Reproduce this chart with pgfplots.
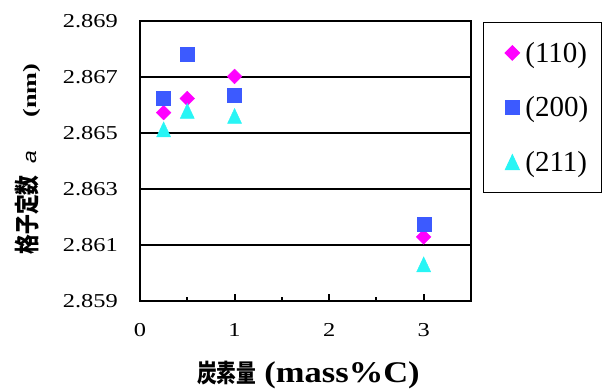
\documentclass[border=0pt]{standalone}
\usepackage{fontspec}
\usepackage{pgfplots}
\pgfplotsset{compat=1.18}
\setmainfont{Liberation Serif}
\newfontfamily\tickfont{Liberation Serif}[FakeStretch=1.24]
\newfontfamily\legfont{Liberation Serif}
\newfontfamily\xlatin{Liberation Serif}[FakeStretch=1.15]
\newfontfamily\ylatin{Liberation Serif}[FakeStretch=1.38]
\newfontfamily\asans{Liberation Sans}[FakeStretch=1.2]
\newfontfamily\cjk{Noto Sans CJK JP}[FakeStretch=0.79]
\definecolor{cmag}{RGB}{255,0,255}
\definecolor{cblue}{RGB}{60,90,255}
\definecolor{ccyan}{RGB}{40,245,245}
\begin{document}
\begin{tikzpicture}
\begin{axis}[
  scale only axis, width=331pt, height=280pt,
  xmin=0, xmax=3.5, ymin=2.859, ymax=2.869,
  xtick={0,1,2,3}, xticklabels={0,1,2,3},
  minor xtick={0.5,1.5,2.5},
  ytick={2.859,2.861,2.863,2.865,2.867,2.869},
  yticklabels={2.859,2.861,2.863,2.865,2.867,2.869},
  xtick pos=left, ytick pos=left,
  tick align=inside,
  major tick length=7pt, minor tick length=4.5pt,
  xtick style={black, line width=2pt},
  minor x tick style={black, line width=2pt},
  ytick style={draw=none},
  ymajorgrids, grid style={black, line width=1.6pt},
  axis line style={black, line width=2.8pt},
  xticklabel style={font=\tickfont\fontsize{19.7}{22}\selectfont, inner sep=0pt, anchor=north, yshift=-22pt},
  yticklabel style={font=\tickfont\fontsize{19.7}{22}\selectfont, inner sep=0pt, anchor=east, xshift=-22pt},
  xlabel={{\cjk\bfseries\fontsize{25}{28}\selectfont 炭素量}\hspace{8pt}{\xlatin\bfseries\fontsize{30}{32}\selectfont (mass\%C)}},
  xlabel style={at={(axis description cs:0.509,-0.2625)}, anchor=center, inner sep=0pt},
  ylabel={{\cjk\bfseries\fontsize{25}{28}\selectfont 格子定数}\hspace{12pt}{\asans\itshape\fontsize{19}{22}\selectfont a}\hspace{33pt}{\ylatin\bfseries\fontsize{19}{22}\selectfont (nm)}},
  ylabel style={at={(axis description cs:-0.340,0.507)}, anchor=center, inner sep=0pt},
  legend style={at={(1.036,0.996)}, anchor=north west, draw=black, line width=0.9pt,
    fill=white, inner xsep=13pt, inner ysep=19.5pt, row sep=33pt,
    font=\legfont\fontsize{29}{32}\selectfont,
    nodes={inner sep=0pt}},
  legend cell align=left,
  legend image code/.code={%
    \path[draw=none, fill=none] (0pt,-1pt) rectangle (29pt,1pt);
    \path[mark repeat=2, mark phase=2, #1, draw=none, fill=none, only marks] plot coordinates {(0pt,0pt) (16pt,0pt) (29pt,0pt)};},
]
\addplot[only marks, mark=square*, mark size=5.2pt, mark options={rotate=45, fill=cmag, draw=none}, color=cmag]
  coordinates {(0.25,2.86573) (0.5,2.86623) (1.0,2.86702) (3.0,2.86129)};
\addlegendentry{(110)}
\addplot[only marks, mark=square*, mark size=7pt, mark options={fill=cblue, draw=none}, color=cblue]
  coordinates {(0.25,2.86625) (0.5,2.86781) (1.0,2.86635) (3.0,2.86174)};
\addlegendentry{(200)}
\addplot[only marks, mark=triangle*, mark size=8.1pt, mark options={yshift=-2.5pt, yscale=1.23, fill=ccyan, draw=none}, color=ccyan]
  coordinates {(0.25,2.86513) (0.5,2.86579) (1.0,2.86561) (3.0,2.86031)};
\addlegendentry{(211)}
\end{axis}
\pgfresetboundingbox
\useasboundingbox (-140pt,-88pt) rectangle (463pt,301pt);
\end{tikzpicture}
\end{document}
